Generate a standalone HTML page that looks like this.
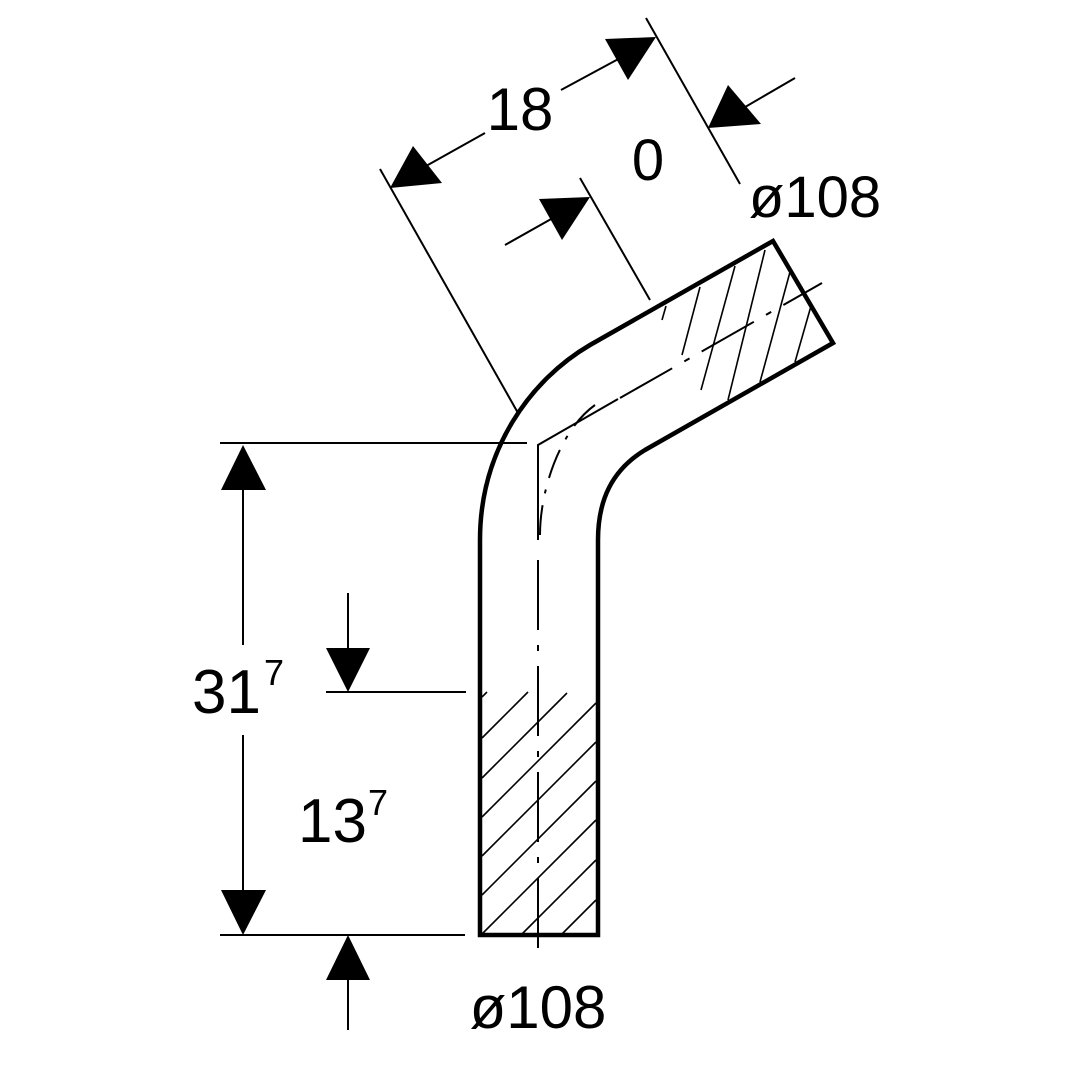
<!DOCTYPE html>
<html><head><meta charset="utf-8"><style>
html,body{margin:0;padding:0;background:#fff;}
svg{display:block;}
text{font-family:"Liberation Sans",sans-serif;fill:#000;}
</style></head><body>
<svg width="1080" height="1080" viewBox="0 0 1080 1080" xmlns="http://www.w3.org/2000/svg">
<g fill="none" stroke="#000">
<path d="M480,935 L480,540 C480,450 530,380 590,345 L773,241 L833,343 L645,450 C612,470 598,500 598,540 L598,935 Z" stroke-width="4.5" stroke-linejoin="miter"/>
<path d="M538,540 L538,445 L618,399" stroke-width="2"/>
<path d="M540,535 C540,490 560,430 595,405" stroke-width="2" stroke-dasharray="30,12,4,12"/>
<line x1="538" y1="560" x2="538" y2="958" stroke-width="2" stroke-dasharray="70,15,6,15"/>
<line x1="620" y1="398" x2="822" y2="283" stroke-width="2" stroke-dasharray="60,14,6,14"/>
<g stroke-width="1.6">
<line x1="482" y1="697" x2="487" y2="692"/>
<line x1="482" y1="738" x2="528" y2="692"/>
<line x1="482" y1="778" x2="567" y2="693"/>
<line x1="482" y1="817" x2="596" y2="703"/>
<line x1="482" y1="856" x2="596" y2="742"/>
<line x1="482" y1="895" x2="596" y2="781"/>
<line x1="482" y1="934" x2="596" y2="820"/>
<line x1="522" y1="934" x2="596" y2="860"/>
<line x1="562" y1="934" x2="596" y2="900"/>
</g>
<g stroke-width="1.6">
<line x1="666" y1="306" x2="662" y2="320"/>
<line x1="700" y1="287" x2="682" y2="355"/>
<line x1="735" y1="266" x2="701" y2="390"/>
<line x1="765" y1="250" x2="728" y2="400"/>
<line x1="790" y1="272" x2="760" y2="382"/>
<line x1="811" y1="306" x2="795" y2="362"/>
</g>
<g stroke-width="2">
<line x1="220" y1="443" x2="527" y2="443"/>
<line x1="220" y1="935" x2="465" y2="935"/>
<line x1="243" y1="470" x2="243" y2="645"/>
<line x1="243" y1="735" x2="243" y2="910"/>
<line x1="326" y1="692" x2="466" y2="692"/>
<line x1="348" y1="593" x2="348" y2="650"/>
<line x1="348" y1="975" x2="348" y2="1030"/>
<line x1="380" y1="169" x2="518" y2="413"/>
<line x1="646" y1="18" x2="740" y2="184"/>
<line x1="410" y1="175" x2="485" y2="133"/>
<line x1="561" y1="90" x2="635" y2="50"/>
<line x1="580" y1="178" x2="650" y2="300"/>
<line x1="505" y1="245" x2="560" y2="214"/>
<line x1="740" y1="110" x2="795" y2="78"/>
</g>
</g>
<g fill="#000">
<polygon points="243,445 221,490 266,490"/>
<polygon points="243,935 221,890 266,890"/>
<polygon points="348,692 326,648 370,648"/>
<polygon points="348,935 326,980 370,980"/>
<polygon points="390,188 413,146 442,183"/>
<polygon points="656,37 605,39 628,80"/>
<polygon points="590,197 539,199 562,240"/>
<polygon points="708,128 728,85 761,124"/>
</g>
<text x="520" y="130" font-size="60" text-anchor="middle">18</text>
<text x="648" y="180" font-size="58" text-anchor="middle">0</text>
<text x="815" y="217" font-size="58" text-anchor="middle">ø108</text>
<text x="192" y="713" font-size="62">31</text>
<text x="264" y="685" font-size="36">7</text>
<text x="298" y="842" font-size="62">13</text>
<text x="368" y="815" font-size="36">7</text>
<text x="538" y="1028" font-size="60" text-anchor="middle">ø108</text>
</svg>
</body></html>
